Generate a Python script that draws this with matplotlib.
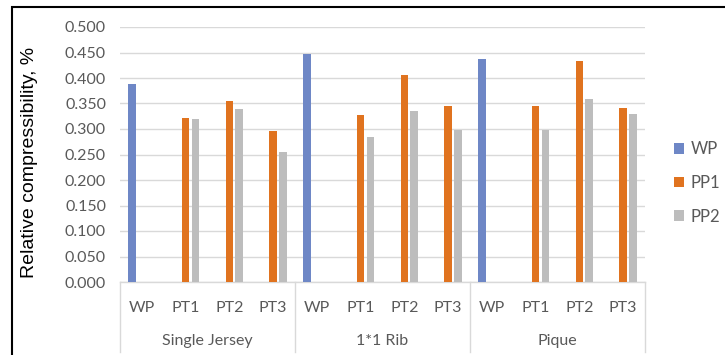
import numpy as np
import matplotlib.pyplot as plt
from matplotlib.patches import Rectangle, Patch
from matplotlib.lines import Line2D

groups = ['Single Jersey', '1*1 Rib', 'Pique']
samples = ['WP', 'PT1', 'PT2', 'PT3']
series = ['WP', 'PP1', 'PP2']

# relative compressibility per fabric / sample (nan = no bar)
wp = [0.388, np.nan, np.nan, np.nan,
      0.447, np.nan, np.nan, np.nan,
      0.437, np.nan, np.nan, np.nan]
pp1 = [np.nan, 0.321, 0.354, 0.297,
       np.nan, 0.328, 0.406, 0.345,
       np.nan, 0.345, 0.433, 0.342]
pp2 = [np.nan, 0.319, 0.339, 0.255,
       np.nan, 0.285, 0.335, 0.299,
       np.nan, 0.299, 0.358, 0.330]

colors = ['#6E87C6', '#E0731F', '#BDBDBD']
label_color = '#595959'
grid_color = '#D9D9D9'
tick_font = 'Lato'

fig = plt.figure(figsize=(7.25, 3.55), dpi=100)
ax = fig.add_axes([120 / 725, 1 - 282 / 355, 525 / 725, 255 / 355])

n = len(groups) * len(samples)
x = np.arange(n) + 0.5
offsets = [-0.224, 0.0, 0.224]
width = 0.175
for vals, off, col, name in zip([wp, pp1, pp2], offsets, colors, series):
    ax.bar(x + off, vals, width=width, color=col, label=name, zorder=3)

ax.set_xlim(0, n)
ax.set_ylim(0, 0.5)
ax.set_yticks(np.arange(0, 0.501, 0.05))
ax.set_yticklabels([f'{v:.3f}' for v in np.arange(0, 0.501, 0.05)],
                   fontsize=11.5, color=label_color, family=tick_font)
ax.tick_params(axis='y', length=0, pad=10)
ax.set_xticks([])
ax.grid(axis='y', color=grid_color, linewidth=1, zorder=0)
for s in ['left', 'right', 'top']:
    ax.spines[s].set_visible(False)
ax.spines['bottom'].set_color(grid_color)
ax.spines['bottom'].set_linewidth(1)

ax.set_ylabel('Relative compressibility, %', fontsize=14,
              family='Liberation Sans', color='black')
ax.yaxis.set_label_coords(-0.156, 0.47)

# two-level category axis below the plot
trans = ax.get_xaxis_transform()
for i in range(n):
    ax.text(x[i], -26 / 255, samples[i % len(samples)], transform=trans,
            ha='center', va='center', fontsize=11.5, color=label_color,
            family=tick_font)
for g, name in enumerate(groups):
    mid = g * len(samples) + len(samples) / 2
    ax.text(mid, -59 / 255, name, transform=trans, ha='center', va='center',
            fontsize=11.5, color=label_color, family=tick_font)
for b in range(len(groups) + 1):
    ax.add_line(Line2D([b * len(samples)] * 2, [0, -70 / 255], transform=trans,
                       color=grid_color, linewidth=1, clip_on=False))

handles = [Patch(facecolor=c, label=s) for c, s in zip(colors, series)]
leg = fig.legend(handles=handles, loc='center left',
                 bbox_to_anchor=(674 / 725, 1 - 183 / 355), frameon=False,
                 borderaxespad=0, borderpad=0,
                 handlelength=0.6, handleheight=0.6, handletextpad=0.4,
                 labelspacing=1.05, prop={'family': tick_font, 'size': 12})
for t in leg.get_texts():
    t.set_color(label_color)

# outer frame of the figure panel
fig.add_artist(Rectangle((12 / 725, -0.1), 1.2, (355 - 7) / 355 + 0.1,
                         transform=fig.transFigure, fill=False,
                         edgecolor='black', linewidth=1.5))

fig.savefig('out.png', dpi=100)
